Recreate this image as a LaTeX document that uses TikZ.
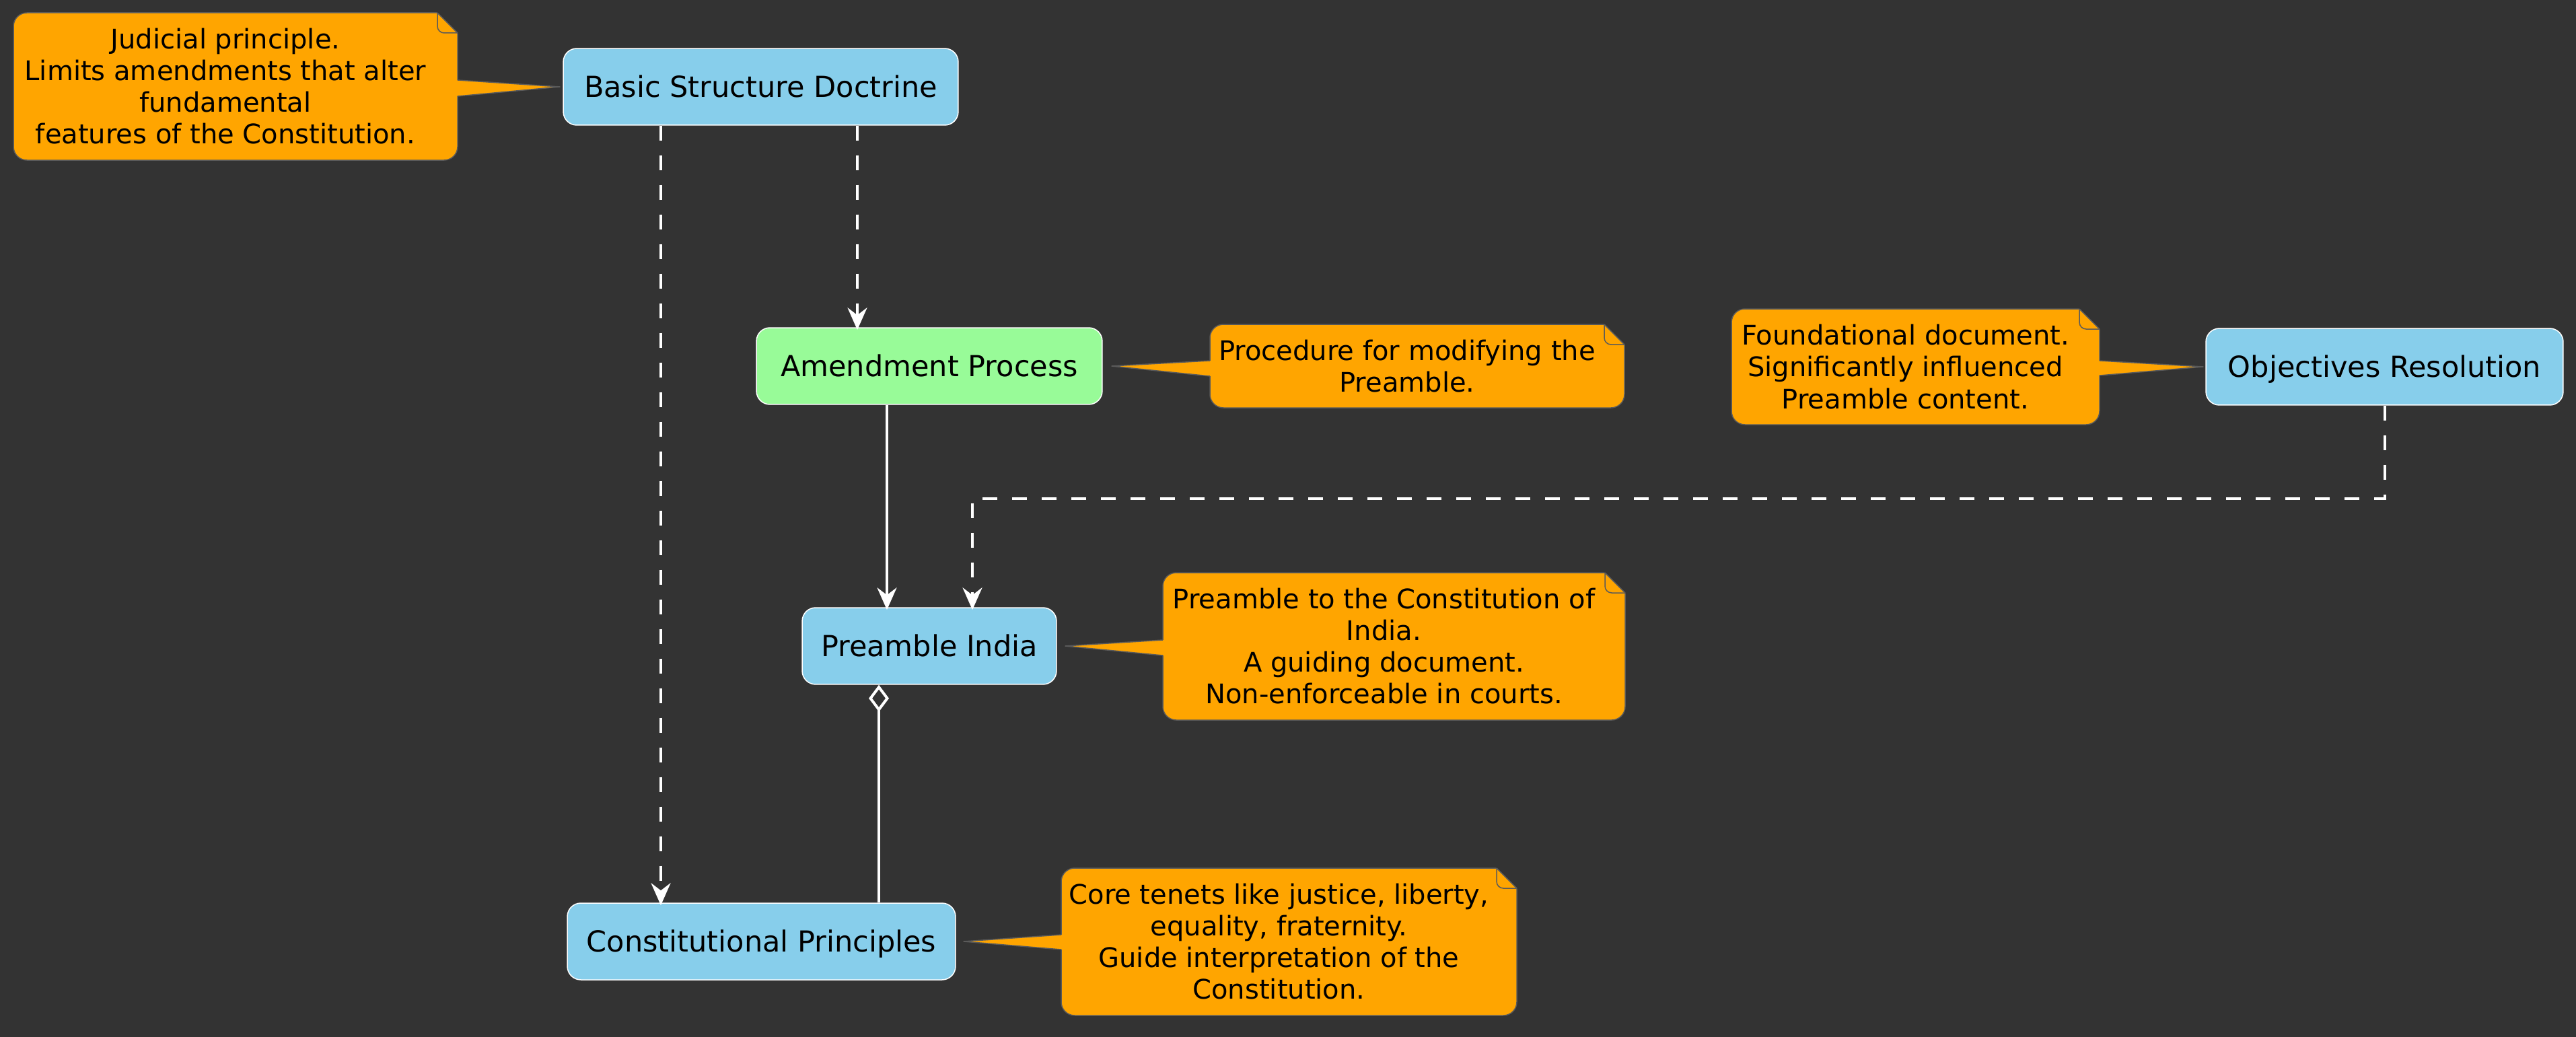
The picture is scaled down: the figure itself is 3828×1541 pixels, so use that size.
\documentclass[tikz,border=0pt]{standalone}
\usepackage{fontspec}
\setmainfont{DejaVu Sans}
\usetikzlibrary{arrows.meta,calc}
\definecolor{bgc}{HTML}{333333}
\definecolor{boxblue}{HTML}{87CEEB}
\definecolor{boxgreen}{HTML}{98FB98}
\definecolor{notefill}{HTML}{FFA500}
\definecolor{notegray}{HTML}{5A5A5A}
\tikzset{
  box/.style={draw=white, line width=0.03cm, rounded corners=0.4cm, minimum height=2.28cm,
    inner sep=0pt, font=\fontsize{24.5pt}{29pt}\selectfont, text height=17.9pt, text depth=0pt, text=black},
  notetext/.style={align=center, font=\fontsize{22.8pt}{26.8pt}\selectfont, inner sep=0pt, text=black},
  notebody/.style={fill=notefill, draw=notegray, line width=0.03cm, rounded corners=0.4cm},
  noteline/.style={draw=notegray, line width=0.03cm},
  link/.style={white, line width=0.08cm},
  dep/.style={link, dash pattern=on 0.44cm off 0.44cm},
  arrowed/.style={-{Stealth[length=0.66cm, width=0.58cm, inset=0.22cm]}, shorten >=-0.08cm},
}
\newcommand\mynote[4]{%
  \draw[notebody] (#1,#2) rectangle (#3,#4);
  \fill[bgc] ({#3-33},{#2-3}) -- ({#3+3},{#2-3}) -- ({#3+3},{#2+33}) -- cycle;
  \draw[noteline] ({#3-30},#2) -- (#3,{#2+30});
  \draw[noteline, rounded corners=0.2cm] ({#3-30},#2) -- ({#3-30},{#2+30}) -- (#3,{#2+30});
}
\newcommand\mypointer[4]{%
  \fill[notefill] (#1,#2) -- (#4) -- (#1,#3) -- cycle;
  \fill[notefill] ({#1-2},#2) rectangle ({#1+2},#3);
  \draw[noteline] (#1,#2) -- (#4) -- (#1,#3);
}
\begin{document}
\begin{tikzpicture}[x=0.02cm, y=-0.02cm]
\fill[bgc] (0,0) rectangle (3828,1541);
\useasboundingbox (0,0) rectangle (3828,1541);

% boxes
\node[box, fill=boxblue, minimum width=11.74cm] (basic) at (1130.5,129) {Basic Structure Doctrine};
\node[box, fill=boxgreen, minimum width=10.28cm] (amend) at (1381,544) {Amendment Process};
\node[box, fill=boxblue, minimum width=7.56cm] (pre) at (1381,960) {Preamble India};
\node[box, fill=boxblue, minimum width=11.54cm] (cons) at (1131.5,1399) {Constitutional Principles};
\node[box, fill=boxblue, minimum width=10.62cm] (obj) at (3543.5,545) {Objectives Resolution};

% connectors
\coordinate (xa) at (1274,0);
\coordinate (xb) at (982,0);
\coordinate (xc) at (1318,0);
\coordinate (xd) at (1306,0);
\coordinate (bend) at (1445,741);
\draw[dep, arrowed] (basic.south -| xa) -- (amend.north -| xa);
\draw[dep, arrowed] (basic.south -| xb) -- (cons.north -| xb);
\draw[link, arrowed] (amend.south -| xc) -- (pre.north -| xc);
\draw[dep, arrowed] (obj.south) |- (bend) -- (pre.north -| bend);
\draw[link, {Diamond[open, length=0.8cm, width=0.6cm]}-] (pre.south -| xd) -- (cons.north -| xd);

% notes
\mynote{20}{19}{680}{238}
\coordinate (t1) at ([xshift=-0.08cm]basic.west);
\mypointer{680}{119}{143}{t1}
\node[notetext] (n1) at (335,128) {Judicial principle.\\Limits amendments that alter\\fundamental\\features of the Constitution.};

\mynote{1798}{482}{2414}{606}
\coordinate (t2) at ([xshift=0.26cm]amend.east);
\mypointer{1798}{536}{559}{t2}
\node[notetext] (n2) at (2091,544) {Procedure for modifying the\\Preamble.};

\mynote{1728}{851}{2415}{1070}
\coordinate (t3) at ([xshift=0.24cm]pre.east);
\mypointer{1728}{951}{974}{t3}
\node[notetext] (n3) at (2056.5,960) {Preamble to the Constitution of\\India.\\A guiding document.\\Non-enforceable in courts.};

\mynote{1577}{1290}{2254}{1509}
\coordinate (t4) at ([xshift=0.22cm]cons.east);
\mypointer{1577}{1389}{1411}{t4}
\node[notetext] (n4) at (1900.5,1399) {Core tenets like justice, liberty,\\equality, fraternity.\\Guide interpretation of the\\Constitution.};

\mynote{2573}{459}{3120}{631}
\coordinate (t5) at ([xshift=-0.06cm]obj.west);
\mypointer{3120}{536}{558}{t5}
\node[notetext] (n5) at (2831.5,545) {Foundational document.\\Significantly influenced\\Preamble content.};
\end{tikzpicture}
\end{document}
